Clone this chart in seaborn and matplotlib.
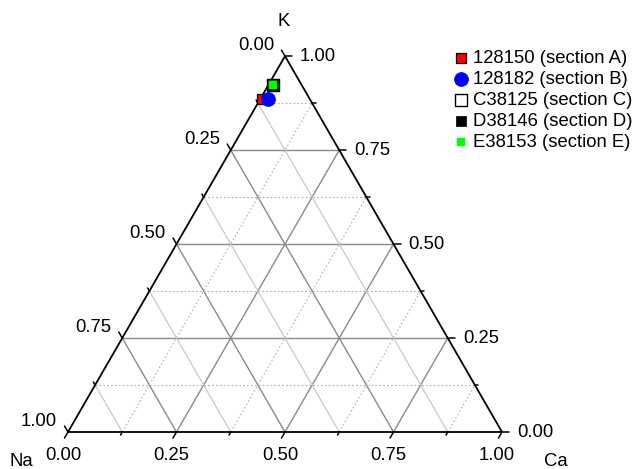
import numpy as np
import pandas as pd
import matplotlib
matplotlib.use("Agg")
import matplotlib.pyplot as plt
import seaborn as sns

# ---- data (fractions Na, K, Ca) ----
labels = ["128150 (section A)", "128182 (section B)", "C38125 (section C)",
          "D38146 (section D)", "E38153 (section E)"]
na = [0.111, 0.096, 0.067, 0.067, 0.067]
k = [0.886, 0.885, 0.922, 0.922, 0.922]
ca = [0.003, 0.019, 0.011, 0.011, 0.011]
tick_values = [0.0, 0.25, 0.5, 0.75, 1.0]
tick_labels = ["0.00", "0.25", "0.50", "0.75", "1.00"]
minor_values = [0.125, 0.375, 0.625, 0.875]
corner_labels = ["Na", "K", "Ca"]

# ---- styles ----
markers = ["s", "o", "s", "s", "s"]
faces = ["#ff0000", "#0000ff", "#ffffff", "#000000", "#00ff00"]
edges = ["#000000", "#0000ff", "#000000", "#000000", "#00ff00"]
sizes = [60, 100, 80, 50, 28]
edge_lw = [0.9, 0.5, 1.0, 0.5, 0.3]

sns.set_theme(style="white")
plt.rcParams["font.family"] = ["Liberation Sans", "DejaVu Sans"]
plt.rcParams["text.color"] = "black"
FS = 13.3

H = np.sqrt(3) / 2


def proj(na_, k_, ca_):
    t = na_ + k_ + ca_
    return (ca_ + k_ / 2) / t, (k_ * H) / t


fig = plt.figure(figsize=(6.32, 4.69), dpi=100)
ax = fig.add_axes([0, 0, 1, 1])
ax.set_xlim(-68 / 434, 564 / 434)
ax.set_ylim(-37 / 434, 432 / 434)
ax.axis("off")

# ---- grid lines ----
major_c = "#8a8a8a"
minor_solid_c = "#c8c8c8"
minor_dot_c = "#b0b0b0"
for v in tick_values[1:-1] + minor_values:
    is_major = v in tick_values
    # constant K (horizontal)
    p1 = proj(1 - v, v, 0); p2 = proj(0, v, 1 - v)
    ax.plot([p1[0], p2[0]], [p1[1], p2[1]],
            color=major_c if is_major else minor_dot_c,
            lw=1.0 if is_major else 0.8,
            ls="-" if is_major else (0, (1.5, 2)), zorder=1)
    # constant Na
    p1 = proj(v, 1 - v, 0); p2 = proj(v, 0, 1 - v)
    ax.plot([p1[0], p2[0]], [p1[1], p2[1]],
            color=major_c if is_major else minor_solid_c,
            lw=1.0 if is_major else 0.9, ls="-", zorder=1)
    # constant Ca
    p1 = proj(1 - v, 0, v); p2 = proj(0, 1 - v, v)
    ax.plot([p1[0], p2[0]], [p1[1], p2[1]],
            color=major_c if is_major else minor_dot_c,
            lw=1.0 if is_major else 0.8,
            ls="-" if is_major else (0, (1.5, 2)), zorder=1)

# ---- triangle ----
A = proj(1, 0, 0); B = proj(0, 0, 1); C = proj(0, 1, 0)
ax.plot([A[0], B[0], C[0], A[0]], [A[1], B[1], C[1], A[1]],
        color="black", lw=1.3, zorder=3, solid_joinstyle="miter")

# ---- ticks and tick labels ----
L_major = 7 / 434
L_minor = 3.5 / 434
for v in tick_values + minor_values:
    L = L_major if v in tick_values else L_minor
    # left axis: Na fraction, tick up-left
    p = proj(v, 1 - v, 0)
    ax.plot([p[0], p[0] - 0.5 * L], [p[1], p[1] + H * L], color="black", lw=1.1, zorder=3)
    # right axis: K fraction, tick to the right
    p = proj(0, v, 1 - v)
    ax.plot([p[0], p[0] + L], [p[1], p[1]], color="black", lw=1.1, zorder=3)
    # bottom axis: Ca fraction, tick down-left
    p = proj(1 - v, 0, v)
    ax.plot([p[0], p[0] - 0.5 * L], [p[1], p[1] - H * L], color="black", lw=1.1, zorder=3)

for v, lab in zip(tick_values, tick_labels):
    p = proj(v, 1 - v, 0)
    ax.annotate(lab, p, xytext=(-7.9, 7.9), textcoords="offset points",
                ha="right", va="center", fontsize=FS, color="black")
    p = proj(0, v, 1 - v)
    ax.annotate(lab, p, xytext=(10.8, 0), textcoords="offset points",
                ha="left", va="center", fontsize=FS, color="black")
    p = proj(1 - v, 0, v)
    ax.annotate(lab, p, xytext=(-3.6, -16.6), textcoords="offset points",
                ha="center", va="center", fontsize=FS, color="black")

# ---- corner labels ----
ax.annotate(corner_labels[0], A, xytext=(-33.3, -21.4), textcoords="offset points",
            ha="center", va="center", fontsize=FS, color="black")
ax.annotate(corner_labels[1], C, xytext=(-0.7, 25.2), textcoords="offset points",
            ha="center", va="center", fontsize=FS, color="black")
ax.annotate(corner_labels[2], B, xytext=(38.7, -21.4), textcoords="offset points",
            ha="center", va="center", fontsize=FS, color="black")

# ---- data points ----
df = pd.DataFrame({"label": labels, "Na": na, "K": k, "Ca": ca})
xy = [proj(a, b, c) for a, b, c in zip(df["Na"], df["K"], df["Ca"])]
df["x"] = [p[0] for p in xy]
df["y"] = [p[1] for p in xy]
for i, row in df.iterrows():
    sns.scatterplot(x=[row["x"]], y=[row["y"]], ax=ax, marker=markers[i],
                    color=faces[i], edgecolor=edges[i], linewidth=edge_lw[i],
                    s=sizes[i], label=row["label"], zorder=5 + i)

ax.legend(loc="upper left", bbox_to_anchor=(453.6 / 632, 1 - 50 / 469),
          frameon=False, fontsize=FS, handlelength=0.8, handletextpad=0.25,
          borderpad=0, borderaxespad=0, labelspacing=0.22, scatterpoints=1,
          labelcolor="black")

fig.savefig("out.png", dpi=100)
